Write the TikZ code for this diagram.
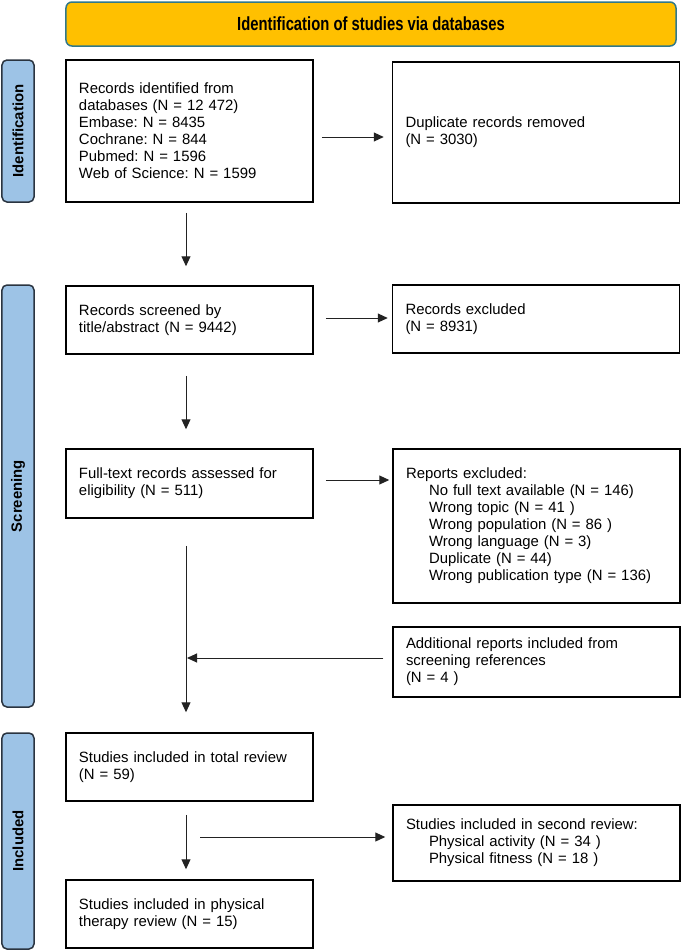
\documentclass[tikz,border=0pt]{standalone}
\usepackage{fontspec}
\setmainfont{Liberation Sans}
\newfontfamily\bannerfont[FakeStretch=0.78]{Liberation Sans}
\usetikzlibrary{arrows.meta}
\definecolor{bannerfill}{HTML}{FFC000}
\definecolor{bannerdraw}{HTML}{31788A}
\definecolor{labfill}{HTML}{9DC3E6}
\definecolor{labdraw}{HTML}{2A3440}
\definecolor{arrcol}{HTML}{222222}
\frenchspacing
\tikzset{
  pbox/.style={draw=black, line width=1.5bp, fill=white, align=left, inner xsep=13bp, inner ysep=2bp,
    font=\fontsize{14.9bp}{17bp}\selectfont},
  lcol/.style={pbox, minimum width=247bp, text width=221bp},
  rcol/.style={pbox, minimum width=287bp, text width=261bp},
  lab/.style={draw=labdraw, fill=labfill, line width=1.5bp, rounded corners=5bp, rotate=90,
    minimum height=32bp, inner sep=0pt, font=\bfseries\fontsize{14.9bp}{17bp}\selectfont},
  banner/.style={draw=bannerdraw, fill=bannerfill, line width=1.5bp, rounded corners=6bp,
    font=\bannerfont\bfseries\fontsize{19bp}{22bp}\selectfont},
  arr/.style={draw=arrcol, line width=1bp, -{Triangle[length=10bp,width=9bp]}},
}
\newcommand{\ind}{\hspace*{23bp}}
\begin{document}
\begin{tikzpicture}[x=1bp,y=-1bp]
\fill[white] (0,0) rectangle (681,950);
\useasboundingbox (0,0) rectangle (681,950);

\node[banner, minimum width=610bp, minimum height=44bp] (banner) at (371,24) {Identification of studies via databases};

\node[lab, minimum width=142bp] (l1) at (18,131) {Identification};
\node[lab, minimum width=422bp] (l2) at (18,496) {Screening};
\node[lab, minimum width=216bp] (l3) at (18,841) {Included};

\node[lcol, minimum height=142bp] (ident) at (189.5,131) {Records identified from\\databases (N = 12 472)\\Embase: N = 8435\\Cochrane: N = 844\\Pubmed: N = 1596\\Web of Science: N = 1599};
\node[rcol, minimum height=141bp] (dup) at (536,132.5) {Duplicate records removed\\(N = 3030)};

\node[lcol, minimum height=68bp] (screened) at (189.5,320) {Records screened by\\title/abstract (N = 9442)};
\node[rcol, minimum height=68bp] (excl) at (536,319) {Records excluded\\(N = 8931)};

\node[lcol, minimum height=69bp] (fulltext) at (189.5,483.5) {Full-text records assessed for\\eligibility (N = 511)};
\node[rcol, minimum height=154bp] (repexcl) at (536.5,526) {Reports excluded:\\\ind No full text available (N = 146)\\\ind Wrong topic (N = 41 )\\\ind Wrong population (N = 86 )\\\ind Wrong language (N = 3)\\\ind Duplicate (N = 44)\\\ind Wrong publication type (N = 136)};

\node[rcol, minimum height=70bp] (addl) at (536.5,662) {Additional reports included from\\screening references\\(N = 4 )};

\node[lcol, minimum height=68bp] (total) at (189.5,767) {Studies included in total review\\(N = 59)};
\node[rcol, minimum height=76bp] (second) at (536.5,843) {Studies included in second review:\\\ind Physical activity (N = 34 )\\\ind Physical fitness (N = 18 )};
\node[lcol, minimum height=68bp] (physther) at (189.5,914) {Studies included in physical\\therapy review (N = 15)};

\coordinate (trunk) at ([xshift=-3.5bp]fulltext.south);
\coordinate (trunk2) at ([xshift=-3.5bp]total.south);

\draw[arr, shorten <=8bp, shorten >=8bp] ([yshift=-6bp]ident.east) -- ([yshift=-6bp]ident.east -| dup.west);
\draw[arr, shorten <=10bp, shorten >=19bp] ([xshift=-3.5bp]ident.south) -- ([xshift=-3.5bp]screened.north);
\draw[arr, shorten <=12bp, shorten >=4bp] ([yshift=2bp]screened.east) -- ([yshift=2bp]screened.east -| excl.west);
\draw[arr, shorten <=21bp, shorten >=19bp] ([xshift=-3.5bp]screened.south) -- ([xshift=-3.5bp]fulltext.north);
\draw[arr, shorten <=12bp, shorten >=3bp] ([yshift=3.5bp]fulltext.east) -- ([yshift=3.5bp]fulltext.east -| repexcl.west);
\draw[arr, shorten <=27bp, shorten >=20bp] (trunk) -- ([xshift=-3.5bp]total.north);
\draw[arr, shorten <=9bp, shorten >=1bp] ([yshift=4bp]addl.west) -- ([yshift=4bp]addl.west -| trunk);
\draw[arr, shorten <=13bp, shorten >=10bp] (trunk2) -- ([xshift=-3.5bp]physther.north);
\draw[arr, shorten <=14bp, shorten >=7bp] ([yshift=6bp]second.west -| trunk2) -- ([yshift=6bp]second.west);
\end{tikzpicture}
\end{document}
